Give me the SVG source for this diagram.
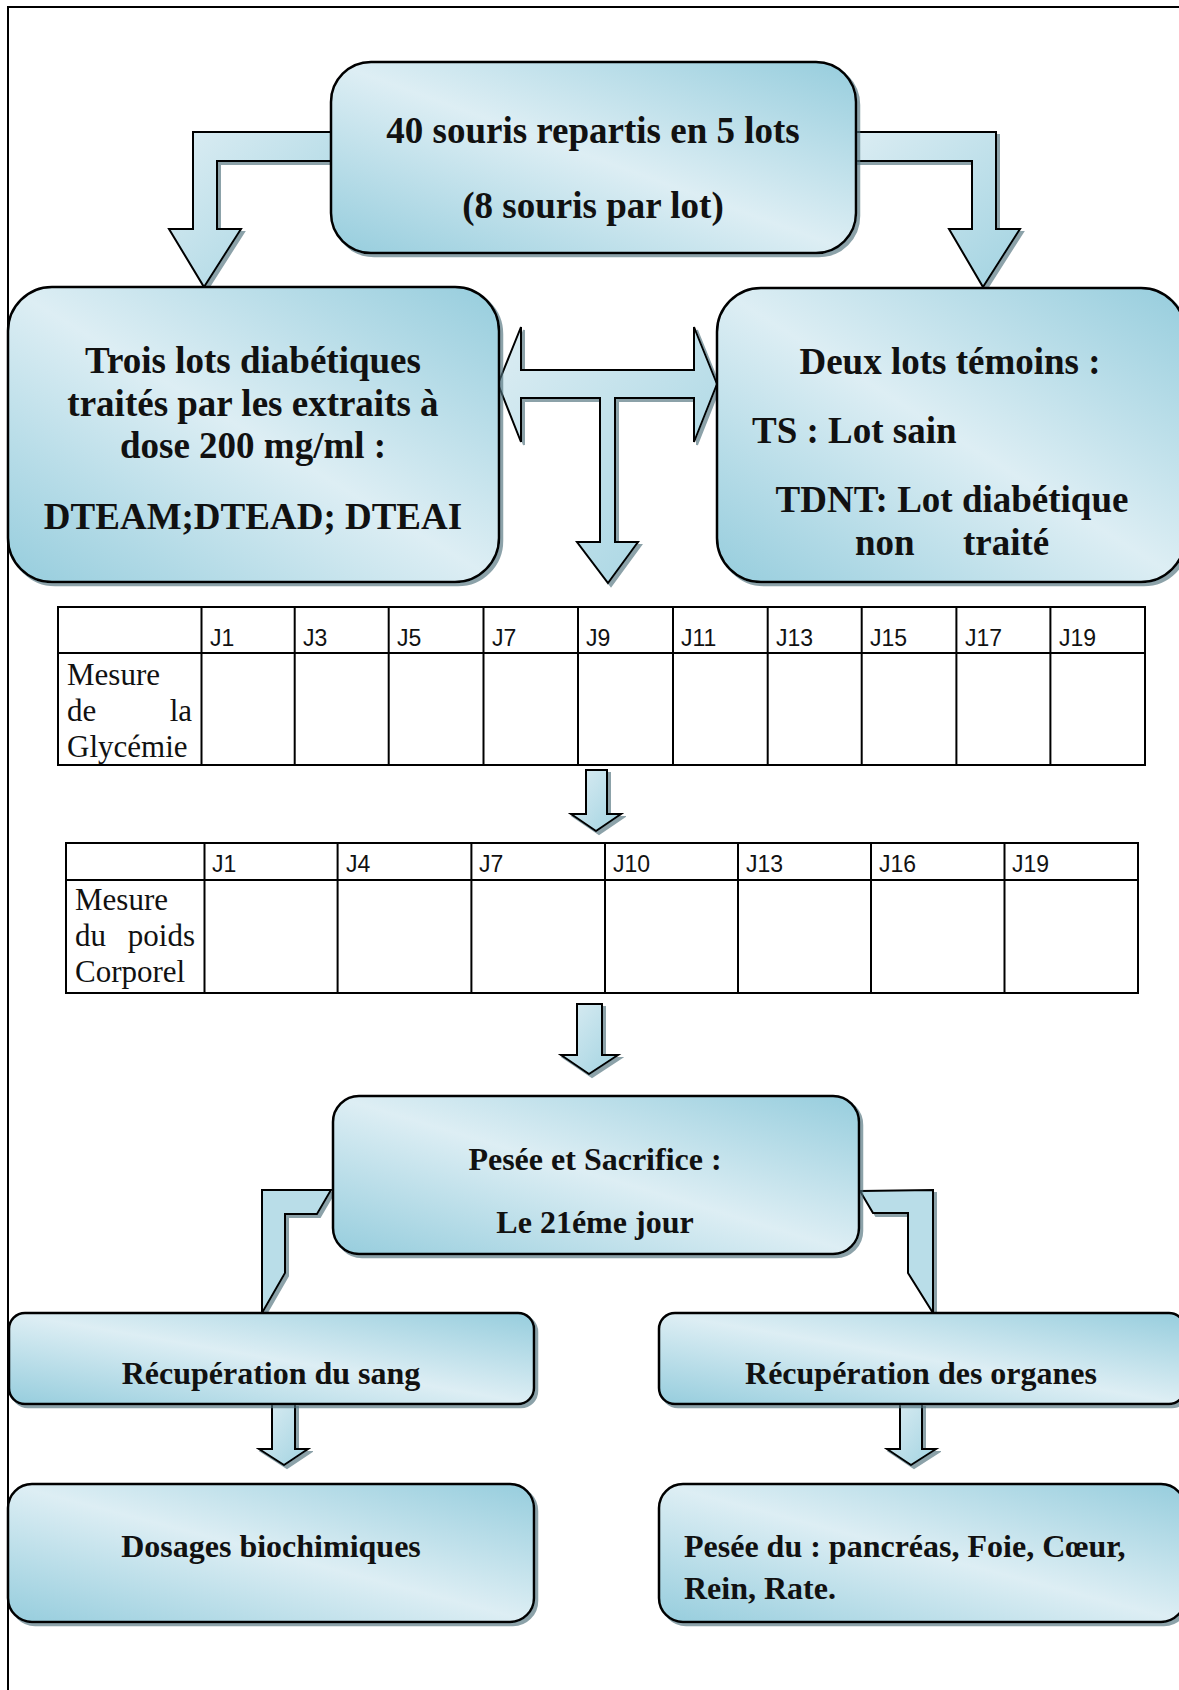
<svg xmlns="http://www.w3.org/2000/svg" width="1179" height="1690" viewBox="0 0 1179 1690">
<style>
.box{stroke:#000;stroke-width:2.5;fill:url(#g)}
.arr{stroke:#000;stroke-width:2;fill:url(#ga);stroke-linejoin:miter}
.arr2{stroke:#000;stroke-width:2;fill:#b9dde8}
.t{font-family:"Liberation Serif","Times New Roman",serif;font-weight:bold;fill:#111}
.big{font-size:37px}
.mid{font-size:32px}
.tl{stroke:#000;stroke-width:2;fill:none}
.j{font-family:"Liberation Sans",Arial,sans-serif;font-size:23px;fill:#111}
.r{font-family:"Liberation Serif","Times New Roman",serif;font-size:31px;fill:#111}
</style>
<defs>
<linearGradient id="g" x1="0" y1="1" x2="1" y2="0">
<stop offset="0" stop-color="#96cddd"/>
<stop offset="0.5" stop-color="#ddeef4"/>
<stop offset="1" stop-color="#96cddd"/>
</linearGradient>
<linearGradient id="ga" x1="0" y1="0" x2="1" y2="1">
<stop offset="0" stop-color="#dcedf3"/>
<stop offset="1" stop-color="#a2d3e1"/>
</linearGradient>
<filter id="sh" x="-5%" y="-5%" width="115%" height="115%">
<feDropShadow dx="3" dy="3" stdDeviation="0.6" flood-color="#4f707c" flood-opacity="0.65"/>
</filter>
</defs>
<rect width="1179" height="1690" fill="#fff"/>
<path d="M8,1690 V7 H1179" fill="none" stroke="#000" stroke-width="2"/>

<g id="connectors">
<polygon class="arr" filter="url(#sh)" points="340,132 193,132 193,229 169,229 204,287 241,229 217,229 217,161 340,161"/>
<polygon class="arr" filter="url(#sh)" points="846,132 996,132 996,229 1020,229 983,287 949,229 972,229 972,161 846,161"/>
<polygon class="arr" filter="url(#sh)" points="498,384 521,327 521,370 694,370 694,327 717,384 694,442 694,398 615,398 615,542 638,542 608,583 577,542 600,542 600,398 521,398 521,442"/>
<polygon class="arr" filter="url(#sh)" points="586,770 607,770 607,814 621,814 596,831 571,814 586,814"/>
<polygon class="arr" filter="url(#sh)" points="577,1004 602,1004 602,1055 618,1055 589,1074 561,1055 577,1055"/>
<polygon class="arr2" filter="url(#sh)" points="262,1190 331,1190 317,1214 285,1214 285,1273 262,1313"/>
<polygon class="arr2" filter="url(#sh)" points="860,1191 933,1190 933,1313 908,1273 908,1213 873,1213"/>
<polygon class="arr" filter="url(#sh)" points="272,1404 295,1404 295,1449 308,1449 284,1465 259,1449 272,1449"/>
<polygon class="arr" filter="url(#sh)" points="900,1404 922,1404 922,1449 936,1449 911,1465 887,1449 900,1449"/>
</g>

<g id="n_top">
<rect class="box" filter="url(#sh)" x="331" y="62" width="525" height="191" rx="40"/>
<text class="t big" x="593" y="143" text-anchor="middle">40 souris repartis en 5 lots</text>
<text class="t big" x="593" y="218" text-anchor="middle">(8 souris par lot)</text>
</g>

<g id="n_left">
<rect class="box" filter="url(#sh)" x="8" y="287" width="491" height="295" rx="44"/>
<text class="t big" x="253" y="373" text-anchor="middle">Trois lots diabétiques</text>
<text class="t big" x="253" y="416" text-anchor="middle">traités par les extraits à</text>
<text class="t big" x="253" y="458" text-anchor="middle">dose 200 mg/ml :</text>
<text class="t big" x="253" y="529" text-anchor="middle">DTEAM;DTEAD; DTEAI</text>
</g>

<g id="n_right">
<rect class="box" filter="url(#sh)" x="717" y="288" width="468" height="294" rx="44"/>
<text class="t big" x="950" y="374" text-anchor="middle">Deux lots témoins :</text>
<text class="t big" x="752" y="443">TS : Lot sain</text>
<text class="t big" x="952" y="512" text-anchor="middle">TDNT: Lot diabétique</text>
<text class="t big" x="855" y="555">non</text>
<text class="t big" x="963" y="555">traité</text>
</g>

<g id="table_glycemie">
<rect class="tl" x="58" y="607" width="1087" height="158"/>
<line class="tl" x1="58" y1="653" x2="1145" y2="653"/>
<path class="tl" d="M201.5,607V765M294.7,607V765M388.7,607V765M483.5,607V765M578,607V765M673,607V765M767.7,607V765M861.7,607V765M956.4,607V765M1050.4,607V765"/>
<text class="j" x="210" y="646">J1</text>
<text class="j" x="303" y="646">J3</text>
<text class="j" x="397" y="646">J5</text>
<text class="j" x="492" y="646">J7</text>
<text class="j" x="586" y="646">J9</text>
<text class="j" x="681" y="646">J11</text>
<text class="j" x="776" y="646">J13</text>
<text class="j" x="870" y="646">J15</text>
<text class="j" x="965" y="646">J17</text>
<text class="j" x="1059" y="646">J19</text>
<text class="r" x="67" y="685">Mesure</text>
<text class="r" x="67" y="721">de</text>
<text class="r" x="192" y="721" text-anchor="end">la</text>
<text class="r" x="67" y="757">Glycémie</text>
</g>

<g id="table_poids">
<rect class="tl" x="66" y="843" width="1072" height="150"/>
<line class="tl" x1="66" y1="880" x2="1138" y2="880"/>
<path class="tl" d="M204.5,843V993M337.6,843V993M471.4,843V993M605,843V993M738,843V993M871,843V993M1004.5,843V993"/>
<text class="j" x="212" y="872">J1</text>
<text class="j" x="346" y="872">J4</text>
<text class="j" x="479" y="872">J7</text>
<text class="j" x="613" y="872">J10</text>
<text class="j" x="746" y="872">J13</text>
<text class="j" x="879" y="872">J16</text>
<text class="j" x="1012" y="872">J19</text>
<text class="r" x="75" y="910">Mesure</text>
<text class="r" x="75" y="946">du</text>
<text class="r" x="195" y="946" text-anchor="end">poids</text>
<text class="r" x="75" y="982">Corporel</text>
</g>

<g id="n_pesee">
<rect class="box" filter="url(#sh)" x="333" y="1096" width="526" height="158" rx="26"/>
<text class="t mid" x="595" y="1170" text-anchor="middle">Pesée et Sacrifice :</text>
<text class="t mid" x="595" y="1233" text-anchor="middle">Le 21éme jour</text>
</g>

<g id="n_sang">
<rect class="box" filter="url(#sh)" x="9" y="1313" width="525" height="91" rx="16"/>
<text class="t mid" x="271" y="1384" text-anchor="middle">Récupération du sang</text>
</g>

<g id="n_organes">
<rect class="box" filter="url(#sh)" x="659" y="1313" width="526" height="91" rx="16"/>
<text class="t mid" x="921" y="1384" text-anchor="middle">Récupération des organes</text>
</g>

<g id="n_dosages">
<rect class="box" filter="url(#sh)" x="8" y="1484" width="526" height="138" rx="24"/>
<text class="t mid" x="271" y="1557" text-anchor="middle">Dosages biochimiques</text>
</g>

<g id="n_pesee_organes">
<rect class="box" filter="url(#sh)" x="659" y="1484" width="526" height="138" rx="24"/>
<text class="t mid" x="684" y="1557">Pesée du : pancréas, Foie, Cœur,</text>
<text class="t mid" x="684" y="1599">Rein, Rate.</text>
</g>
</svg>
